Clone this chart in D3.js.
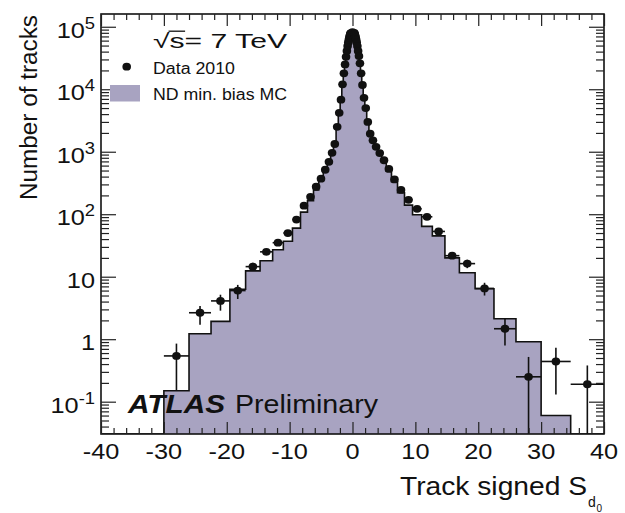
<!DOCTYPE html>
<html>
<head>
<meta charset="utf-8">
<script src="https://cdn.jsdelivr.net/npm/d3@7"></script>
<style>
  html, body { margin: 0; padding: 0; background: #fff; }
  text { font-family: "Liberation Sans", Arial, Helvetica, sans-serif; fill: #111; }
</style>
</head>
<body>
<svg id="chart" width="625" height="513"></svg>
<script>
// Histogram bin edges (variable width, finer near zero)
const binEdges = [-40, -34.7, -30, -26, -22.5, -19.5, -17, -14.7, -12.7, -11, -9.55, -8.27, -7.16, -6.2, -5.37, -4.65,
  -4.02, -3.48, -3.02, -2.61, -2.26, -1.96, -1.70, -1.47, -1.27, -1.10, -0.955, -0.83, -0.72, -0.62, -0.54, -0.47,
  -0.41, -0.36, -0.31, -0.27, 0.27, 0.31, 0.36, 0.41, 0.47, 0.54, 0.62, 0.72, 0.83, 0.955, 1.10, 1.27, 1.47, 1.70,
  1.96, 2.26, 2.61, 3.02, 3.48, 4.02, 4.65, 5.37, 6.2, 7.16, 8.27, 9.55, 11, 12.7, 14.7, 17, 19.5, 22.5, 26, 30, 34.7, 40];

// Data 2010: tracks per bin (null = no entry)
const dataCounts = [null, null, 0.54, 2.65, 4.1, 6.0, 14.5, 25, 35, 50, 82, 137, 190, 275, 370, 515,
  690, 960, 1330, 2500, 4200, 6800, 12000, 18000, 25000, 33000, 41000, 49000, 56000, 62000, 67000, 71000,
  74000, 77000, 79000, 82000, 80000, 77000, 74000, 71000, 67000, 62000, 56000, 49000, 41000, 34000, 26000, 18000, 11700, 7300,
  5000, 3000, 1940, 1520, 1200, 950, 730, 530, 360, 245, 170, 122, 91, 53, 21.7, 16.2, 6.5, 1.47, 0.25, 0.44, 0.19];

// Lower / upper statistical errors on the data points
const dataErrLow = [0, 0, 0.39, 0.95, 1.24, 1.6, 2.2, 2.5, 3, 3.5, 4, 0, 0, 0, 0, 0,
  0, 0, 0, 0, 0, 0, 0, 0, 0, 0, 0, 0, 0, 0, 0, 0,
  0, 0, 0, 0, 0, 0, 0, 0, 0, 0, 0, 0, 0, 0, 0, 0, 0, 0,
  0, 0, 0, 0, 0, 0, 0, 0, 0, 0, 0, 0, 0, 4, 2.2, 2.5, 1.5, 0.68, 0.25, 0.31, 0.19];
const dataErrHigh = [0, 0, 0.31, 0.75, 1.05, 1.4, 2.2, 2.5, 3, 3.5, 4, 0, 0, 0, 0, 0,
  0, 0, 0, 0, 0, 0, 0, 0, 0, 0, 0, 0, 0, 0, 0, 0,
  0, 0, 0, 0, 0, 0, 0, 0, 0, 0, 0, 0, 0, 0, 0, 0, 0, 0,
  0, 0, 0, 0, 0, 0, 0, 0, 0, 0, 0, 0, 0, 4, 2.2, 2.5, 1.5, 0.66, 0.27, 0.29, 0.19];

// ND minimum-bias Monte Carlo prediction per bin
const mcCounts = [0, 0, 0.15, 1.22, 1.93, 6.3, 12.4, 18, 27, 37, 60, 108, 165, 245, 340, 480,
  640, 900, 1280, 2400, 4100, 7000, 12000, 18500, 26000, 34000, 42000, 49000, 56000, 62000, 67000, 71000,
  74000, 77000, 79000, 82000, 79000, 77000, 74000, 71000, 67000, 62000, 56000, 49000, 42000, 34000, 26000, 18500, 12000, 7300,
  4800, 2900, 1850, 1450, 1130, 890, 680, 490, 330, 220, 140, 98, 64, 45, 20, 11.6, 6.4, 2.13, 0.91, 0.06, 0];

// Axis ranges and tick labels
const xDomain = [-40, 40];
const yDomain = [0.0304, 1.6e5];
const xTickValues = [-40, -30, -20, -10, 0, 10, 20, 30, 40];
const xTickLabels = ["-40", "-30", "-20", "-10", "0", "10", "20", "30", "40"];
const yTickValues = [0.1, 1, 10, 100, 1000, 10000, 100000];
const yTickBase = ["10", "1", "10", "10", "10", "10", "10"];
const yTickExp = ["-1", "", "", "2", "3", "4", "5"];

const mcFill = "#a8a3c1";
const frame = { left: 101, right: 604, top: 14, bottom: 434 };

const svg = d3.select("#chart");
svg.append("rect").attr("width", 625).attr("height", 513).attr("fill", "#fff");

const x = d3.scaleLinear().domain(xDomain).range([frame.left, frame.right]);
const y = d3.scaleLog().domain(yDomain).range([frame.bottom, frame.top]);
const yv = v => (v != null && v > 0) ? Math.max(frame.top, Math.min(frame.bottom, y(v))) : frame.bottom;

svg.append("clipPath").attr("id", "plotClip")
  .append("rect")
  .attr("x", frame.left).attr("y", frame.top)
  .attr("width", frame.right - frame.left).attr("height", frame.bottom - frame.top);

const plot = svg.append("g").attr("clip-path", "url(#plotClip)");

const bins = dataCounts.map((v, i) => ({
  lo: binEdges[i], hi: binEdges[i + 1], data: v, mc: mcCounts[i],
  eLo: dataErrLow[i], eHi: dataErrHigh[i]
}));

// MC histogram as a filled step outline
const steps = [[x(binEdges[0]), frame.bottom]];
bins.forEach(b => {
  steps.push([x(b.lo), yv(b.mc)]);
  steps.push([x(b.hi), yv(b.mc)]);
});
steps.push([x(binEdges[binEdges.length - 1]), frame.bottom]);
const line = d3.line();
plot.append("path").attr("d", line(steps) + "Z").attr("fill", mcFill).attr("stroke", "none");
plot.append("path").attr("d", line(steps)).attr("fill", "none").attr("stroke", "#111").attr("stroke-width", 1.6);

// Data points with error bars
const pts = bins.filter(b => b.data != null);
const eb = plot.append("g").attr("stroke", "#111").attr("stroke-width", 1.6);
pts.forEach(b => {
  const cx = x((b.lo + b.hi) / 2), cy = y(b.data);
  eb.append("line").attr("x1", x(b.lo)).attr("x2", x(b.hi)).attr("y1", cy).attr("y2", cy);
  if (b.eLo > 0 || b.eHi > 0) {
    eb.append("line").attr("x1", cx).attr("x2", cx)
      .attr("y1", yv(b.data - b.eLo)).attr("y2", yv(b.data + b.eHi));
  }
});
plot.append("g").selectAll("ellipse").data(pts).join("ellipse")
  .attr("cx", b => x((b.lo + b.hi) / 2))
  .attr("cy", b => y(b.data))
  .attr("rx", 4.3).attr("ry", 3.9)
  .attr("fill", "#111");

// Frame
svg.append("rect")
  .attr("x", frame.left).attr("y", frame.top)
  .attr("width", frame.right - frame.left).attr("height", frame.bottom - frame.top)
  .attr("fill", "none").attr("stroke", "#111").attr("stroke-width", 1.6);

// Ticks on all four sides, pointing inwards
const xMinor = d3.range(-40, 41, 2).filter(v => v % 10 !== 0);
const yAll = y.ticks(60);
const yMinor = yAll.filter(v => !yTickValues.some(t => Math.abs(t - v) / t < 1e-6));

function styleAxis(g) {
  g.select(".domain").remove();
  g.selectAll("text").remove();
  g.selectAll(".tick line").attr("stroke", "#222").attr("stroke-width", 1.2);
}
svg.append("g").attr("transform", `translate(0,${frame.bottom})`)
  .call(d3.axisBottom(x).tickValues(xTickValues).tickSize(-12)).call(styleAxis);
svg.append("g").attr("transform", `translate(0,${frame.bottom})`)
  .call(d3.axisBottom(x).tickValues(xMinor).tickSize(-6)).call(styleAxis);
svg.append("g").attr("transform", `translate(0,${frame.top})`)
  .call(d3.axisTop(x).tickValues(xTickValues).tickSize(-12)).call(styleAxis);
svg.append("g").attr("transform", `translate(0,${frame.top})`)
  .call(d3.axisTop(x).tickValues(xMinor).tickSize(-6)).call(styleAxis);
svg.append("g").attr("transform", `translate(${frame.left},0)`)
  .call(d3.axisLeft(y).tickValues(yTickValues).tickSize(-15)).call(styleAxis);
svg.append("g").attr("transform", `translate(${frame.left},0)`)
  .call(d3.axisLeft(y).tickValues(yMinor).tickSize(-8)).call(styleAxis);
svg.append("g").attr("transform", `translate(${frame.right},0)`)
  .call(d3.axisRight(y).tickValues(yTickValues).tickSize(-15)).call(styleAxis);
svg.append("g").attr("transform", `translate(${frame.right},0)`)
  .call(d3.axisRight(y).tickValues(yMinor).tickSize(-8)).call(styleAxis);

// Tick labels
xTickValues.forEach((v, i) => {
  svg.append("text")
    .attr("transform", `translate(${x(v)},459) scale(1.15,1)`)
    .attr("text-anchor", "middle").attr("font-size", 22)
    .text(xTickLabels[i]);
});
yTickValues.forEach((v, i) => {
  const t = svg.append("text")
    .attr("transform", `translate(95,${y(v) + 11}) scale(1.15,1)`)
    .attr("text-anchor", "end").attr("font-size", 22);
  t.append("tspan").text(yTickBase[i]);
  if (yTickExp[i]) t.append("tspan").attr("font-size", 16).attr("dy", -9).text(yTickExp[i]);
});

// Axis titles
const xt = svg.append("g");
xt.append("text").attr("x", 400).attr("y", 495).attr("font-size", 25)
  .attr("textLength", 187).attr("lengthAdjust", "spacingAndGlyphs").text("Track signed S");
xt.append("text").attr("x", 588).attr("y", 507).attr("font-size", 14).text("d");
xt.append("text").attr("x", 596.5).attr("y", 512).attr("font-size", 10).text("0");

svg.append("text")
  .attr("transform", "translate(36.5,15) rotate(-90)")
  .attr("text-anchor", "end").attr("font-size", 23)
  .attr("textLength", 185).attr("lengthAdjust", "spacingAndGlyphs")
  .text("Number of tracks");

// Legend
const sq = svg.append("text").attr("x", 153).attr("y", 48).attr("font-size", 20)
  .attr("textLength", 134).attr("lengthAdjust", "spacingAndGlyphs")
  .text("\u221As= 7 TeV");
const root = sq.node().getExtentOfChar(0);
const sExt = sq.node().getExtentOfChar(1);
svg.append("line")
  .attr("x1", root.x + root.width - 1).attr("x2", sExt.x + sExt.width + 0.5)
  .attr("y1", root.y + 1.2).attr("y2", root.y + 1.2)
  .attr("stroke", "#111").attr("stroke-width", 1.3);

svg.append("ellipse").attr("cx", 126.7).attr("cy", 66.7).attr("rx", 4.3).attr("ry", 3.9).attr("fill", "#111");
svg.append("text").attr("x", 153).attr("y", 74).attr("font-size", 16)
  .attr("textLength", 82).attr("lengthAdjust", "spacingAndGlyphs").text("Data 2010");
svg.append("rect").attr("x", 110).attr("y", 85).attr("width", 30).attr("height", 16.5).attr("fill", mcFill);
svg.append("text").attr("x", 153).attr("y", 100).attr("font-size", 16)
  .attr("textLength", 134).attr("lengthAdjust", "spacingAndGlyphs").text("ND min. bias MC");

// Experiment label
svg.append("text").attr("x", 128).attr("y", 413).attr("font-size", 25)
  .attr("font-weight", "bold").attr("font-style", "italic")
  .attr("textLength", 97).attr("lengthAdjust", "spacingAndGlyphs").text("ATLAS");
svg.append("text").attr("x", 235).attr("y", 413).attr("font-size", 25)
  .attr("textLength", 143).attr("lengthAdjust", "spacingAndGlyphs").text("Preliminary");
</script>
</body>
</html>
